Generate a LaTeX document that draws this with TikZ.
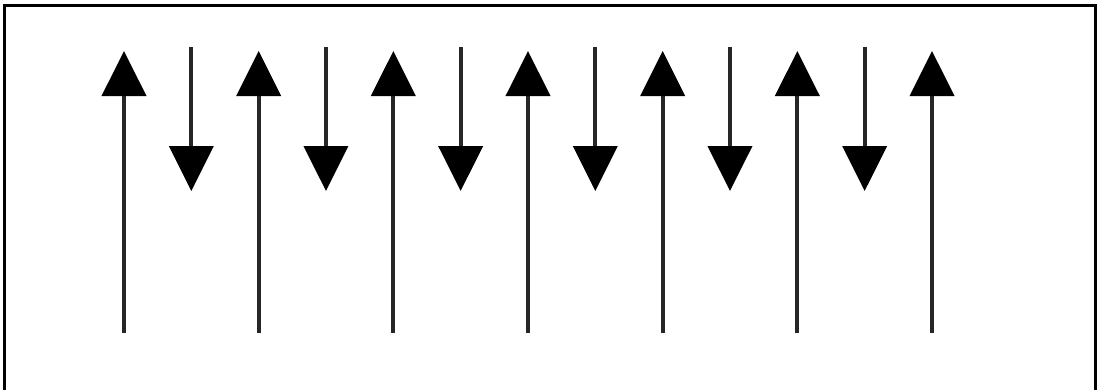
\documentclass[tikz,border=0pt]{standalone}
\usetikzlibrary{arrows.meta}

\begin{document}
\begin{tikzpicture}[
    x=1pt, y=-1pt,
    frame/.style={draw=black, line width=3pt},
    spin/.style={-{Triangle[width=44pt,length=45pt,color=black]}, line width=4pt, draw=black!85}
]
\useasboundingbox (0,0) rectangle (1098,389);

% open frame, cut at the bottom
\coordinate (fbl) at (4.5,392);
\coordinate (ftl) at (4.5,5);
\coordinate (ftr) at (1095.5,5);
\coordinate (fbr) at (1095.5,392);
\draw[frame] (fbl) -- (ftl) -- (ftr) -- (fbr);

% long arrows pointing up
\foreach \i in {0,...,6} {
    \coordinate (up\i-tail) at ({124+134.67*\i},333);
    \coordinate (up\i-tip) at ({124+134.67*\i},51);
    \draw[spin] (up\i-tail) -- (up\i-tip);
}

% short arrows pointing down
\foreach \i in {0,...,5} {
    \coordinate (dn\i-tail) at ({191.3+134.67*\i},47);
    \coordinate (dn\i-tip) at ({191.3+134.67*\i},191);
    \draw[spin] (dn\i-tail) -- (dn\i-tip);
}

\end{tikzpicture}
\end{document}
